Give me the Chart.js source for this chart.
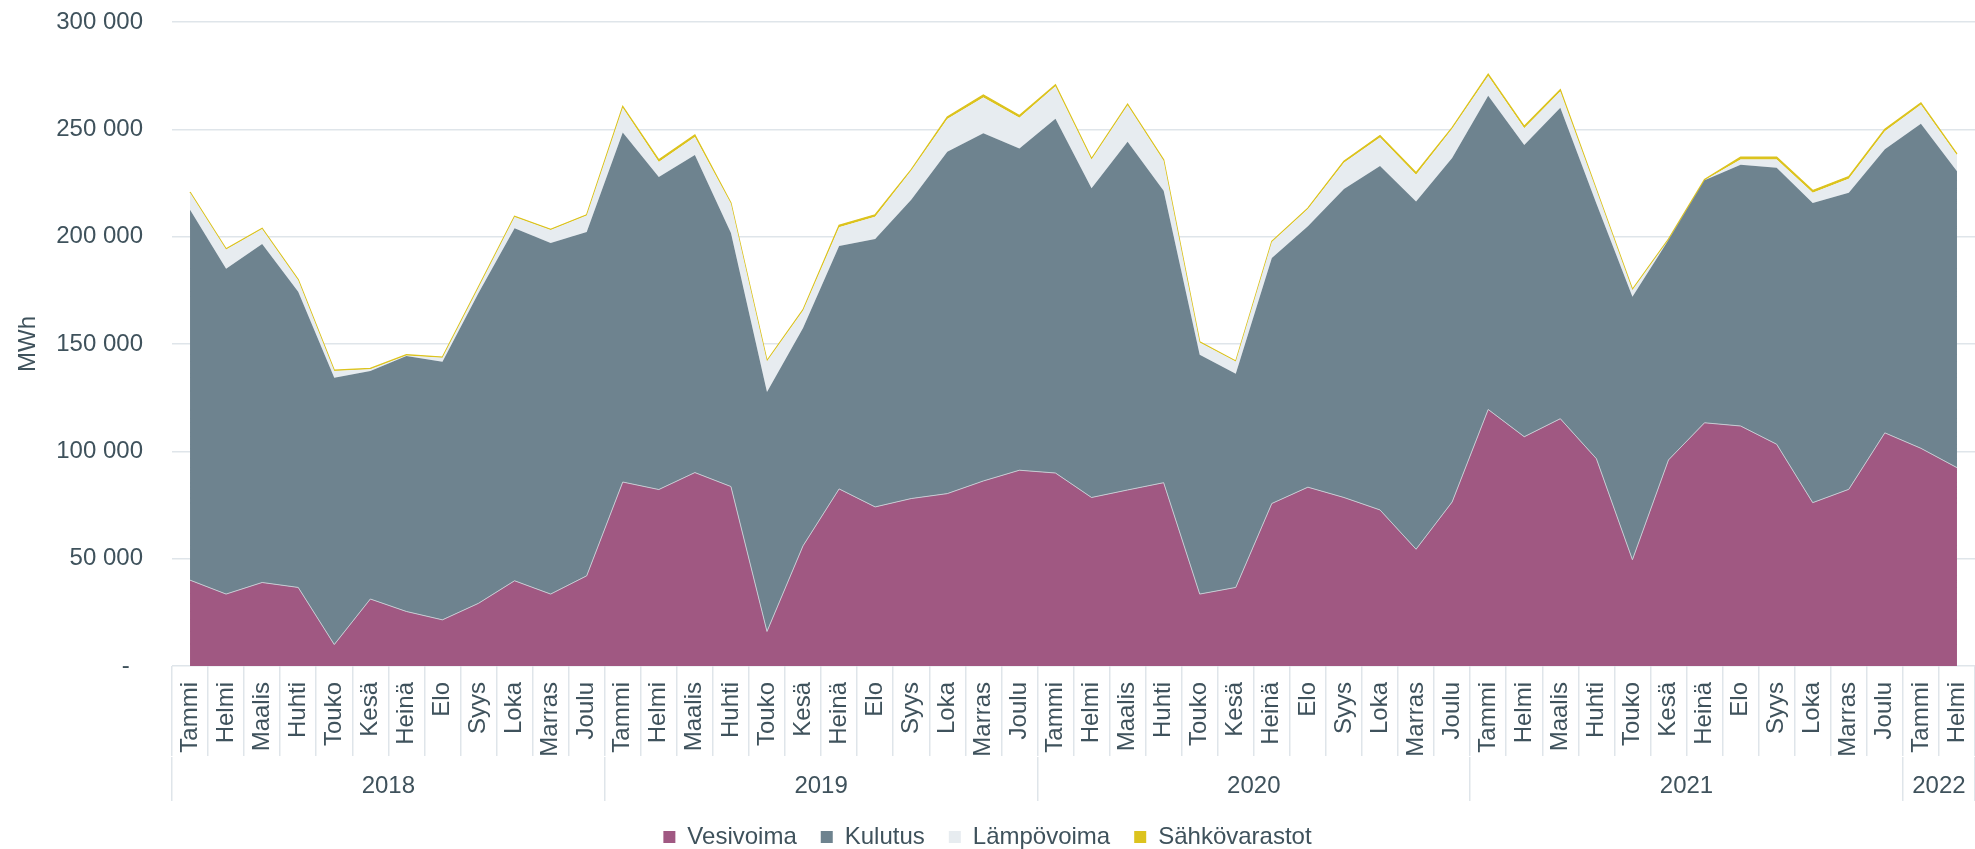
<!DOCTYPE html>
<html lang="fi">
<head>
<meta charset="UTF-8">
<title>Sähkön tuotanto ja kulutus</title>
<script src="https://cdn.jsdelivr.net/npm/chart.js"></script>
<style>
  * { margin: 0; padding: 0; box-sizing: border-box; }
  body { background: #fff; width: 1975px; height: 849px; overflow: hidden; }
  .wrap { position: relative; width: 1975px; height: 849px; }
</style>
</head>
<body>
<div class="wrap"><canvas id="areaChart"></canvas></div>
<script>
// kuukaudet 2018/01 - 2022/02
const monthNames = ['Tammi', 'Helmi', 'Maalis', 'Huhti', 'Touko', 'Kesä', 'Heinä', 'Elo', 'Syys', 'Loka', 'Marras', 'Joulu'];
const months = [].concat(monthNames, monthNames, monthNames, monthNames, ['Tammi', 'Helmi']);
const yearLabels = ['2018', '2019', '2020', '2021', '2022'];
const yearLengths = [12, 12, 12, 12, 2];

// MWh
const vesivoima = [
  40000, 33500, 38900, 36600, 10000, 31200, 25400, 21500, 29200, 39700, 33500, 42000,
  85700, 82200, 90100, 83600, 16100, 56000, 82500, 74100, 78000, 80300, 86200, 91200,
  89900, 78500, 82000, 85400, 33500, 36600, 75700, 83300, 78500, 72700, 54400, 76400,
  119500, 106800, 115200, 96600, 49500, 96000, 113300, 111800, 103300, 76100, 82300, 108600,
  101400, 92400
];
const kulutus = [
  172500, 151500, 157700, 137700, 124300, 106200, 119000, 120200, 144600, 164200, 163600, 160200,
  162800, 145600, 148000, 118100, 111500, 101500, 113100, 124800, 139200, 159200, 162000, 149900,
  165000, 144100, 162200, 136000, 111500, 99500, 114400, 121500, 143700, 160200, 162000, 160200,
  146100, 135900, 144900, 118900, 122500, 102400, 113000, 121700, 128800, 139600, 138200, 132100,
  151200, 138100
];
const lampovoima = [
  8000, 9000, 7000, 5400, 3100, 800, 200, 1900, 2500, 5300, 6000, 7700,
  11600, 7000, 8300, 13700, 14400, 8100, 8800, 10400, 13600, 15300, 16600, 14300,
  15200, 13400, 17000, 14000, 5700, 5700, 7400, 8100, 12200, 13300, 12500, 13700,
  9300, 7800, 7500, 6200, 3200, 200, 0, 2500, 3900, 4800, 6500, 8400,
  8800, 7400
];
const sahkovarastot = [
  300, 300, 300, 300, 400, 400, 400, 300, 300, 300, 300, 300,
  500, 1000, 1000, 300, 300, 400, 900, 900, 400, 900, 1200, 1000,
  600, 400, 500, 400, 300, 200, 300, 400, 800, 900, 900, 500,
  800, 900, 900, 300, 300, 300, 300, 1000, 1000, 1000, 1000, 900,
  900, 700
];

const textColor = '#3f525c';
const gridColor = '#dfe5ea';
const font = { family: "'Liberation Sans', Arial, sans-serif", size: 24 };

// vuosirivin ticks: reunat + keskikohdat
const yearTicks = [];
let start = 0;
yearLabels.forEach((y, k) => {
  yearTicks.push({ value: start - 0.5, edge: true, label: '' });
  yearTicks.push({ value: start + yearLengths[k] / 2 - 0.5, edge: false, label: y });
  start += yearLengths[k];
});
yearTicks.push({ value: start - 0.5, edge: true, label: '' });

function fmt(v) {
  if (v === 0) return '-  ';
  return String(v).replace(/\B(?=(\d{3})+(?!\d))/g, ' ');
}

const none = 'rgba(0,0,0,0)';

new Chart(document.getElementById('areaChart'), {
  type: 'line',
  data: {
    labels: months,
    datasets: [
      { label: 'Vesivoima', data: vesivoima, fill: 'origin', backgroundColor: '#a05882',
        borderColor: '#c4cbd2', borderWidth: 1 },
      { label: 'Kulutus', data: kulutus, fill: '-1', backgroundColor: '#6e838f',
        borderColor: none, borderWidth: 0 },
      { label: 'Lämpövoima', data: lampovoima, fill: '-1', backgroundColor: '#e7ecf0',
        borderColor: none, borderWidth: 0 },
      { label: 'Sähkövarastot', data: sahkovarastot, fill: '-1', backgroundColor: '#dcc31e',
        borderColor: '#dcc31e', borderWidth: 1.3 }
    ]
  },
  options: {
    responsive: true,
    maintainAspectRatio: false,
    animation: false,
    elements: { point: { radius: 0, hoverRadius: 0 }, line: { tension: 0 } },
    layout: { padding: { top: 22, bottom: -10, left: 0, right: 0 } },
    scales: {
      x: {
        type: 'category',
        offset: true,
        weight: 0,
        grid: { offset: true, drawOnChartArea: false, color: gridColor, lineWidth: 1.5, tickLength: 90 },
        border: { display: false },
        ticks: { minRotation: 90, maxRotation: 90, autoSkip: false, padding: -74, font: font, color: textColor },
        afterFit: axis => { axis.height = 91; }
      },
      yr: {
        type: 'linear',
        position: 'bottom',
        weight: 1,
        min: -0.5,
        max: 49.5,
        bounds: 'data',
        afterBuildTicks: axis => { axis.ticks = yearTicks.map(t => ({ value: t.value })); },
        grid: {
          drawOnChartArea: false, lineWidth: 1.5, tickLength: 44,
          color: ctx => (yearTicks[ctx.index] && yearTicks[ctx.index].edge) ? gridColor : none
        },
        border: { display: false },
        ticks: {
          autoSkip: false, maxRotation: 0, padding: -29, font: font, color: textColor,
          callback: (v, i) => yearTicks[i] ? yearTicks[i].label : ''
        },
        afterFit: axis => { axis.height = 44; }
      },
      y: {
        stacked: true,
        min: 0,
        max: 300000,
        ticks: { stepSize: 50000, padding: 0, font: font, color: textColor, callback: v => fmt(v) },
        // näkymättömät tick-viivat antavat välin nimikkeiden ja kuva-alueen väliin
        grid: { color: gridColor, lineWidth: 1.5, drawTicks: true, tickLength: 29, tickColor: none },
        border: { display: false },
        title: { display: true, text: 'MWh', font: font, color: textColor, padding: { top: 14, bottom: 0 } },
        afterFit: axis => { axis.width = 172; }
      }
    },
    plugins: {
      legend: {
        position: 'bottom',
        labels: {
          font: font, color: textColor, boxWidth: 12, boxHeight: 12, padding: 24,
          generateLabels: chart => {
            const items = Chart.defaults.plugins.legend.labels.generateLabels(chart);
            items.forEach(it => { it.lineWidth = 0; it.strokeStyle = none; });
            return items;
          }
        }
      },
      tooltip: { enabled: false }
    }
  }
});
</script>
</body>
</html>
